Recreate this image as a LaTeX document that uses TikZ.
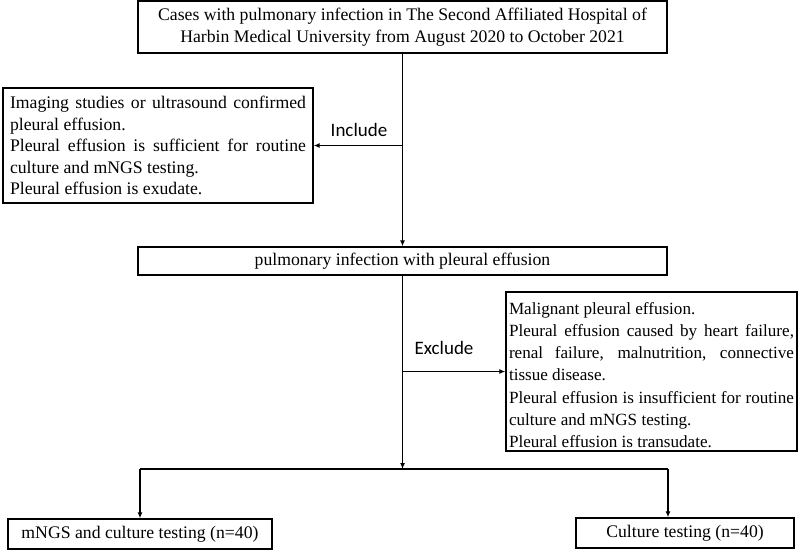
\documentclass[tikz,border=0pt]{standalone}
\usepackage{fontspec}
\setmainfont{Liberation Serif}
\newfontfamily\labfont{Carlito}
\newcommand\nohyphs{\hyphenpenalty=10000\relax}
\usetikzlibrary{arrows.meta}
\begin{document}
\begin{tikzpicture}[x=1pt,y=-1pt,
  box/.style={draw=black, line width=1.4pt, inner ysep=2pt, font=\fontsize{17.7}{21.5}\selectfont\nohyphs},
  conn/.style={line width=1.4pt},
  arr/.style={line width=1.4pt, -{Latex[length=6pt,width=5pt]}},
  lab/.style={font=\labfont\fontsize{19}{21}\selectfont}]
\useasboundingbox (0,0) rectangle (800,555);
\node[box, minimum width=529pt, minimum height=52pt, align=center] (top) at (402.5,27)
  {Cases with pulmonary infection in The Second Affiliated Hospital of\\Harbin Medical University from August 2020 to October 2021};
\node[box, text width=296pt, inner xsep=7pt, minimum height=115pt, align=justify] (incl) at (158,145.5)
  {Imaging studies or ultrasound confirmed\linebreak pleural effusion.\par
   Pleural effusion is sufficient for routine\linebreak culture and mNGS testing.\par
   Pleural effusion is exudate.};
\node[box, minimum width=529pt, minimum height=28pt] (mid) at (402.5,261)
  {pulmonary infection with pleural effusion};
\node[box, font=\fontsize{17.1}{22.2}\selectfont\nohyphs, text width=285pt, inner xsep=3pt, inner ysep=0pt, minimum height=159pt, align=justify] (excl) at (651.5,371.5)
  {\rule{0pt}{19pt}Malignant pleural effusion.\par
   Pleural effusion caused by heart failure,\linebreak renal failure, malnutrition, connective\linebreak tissue disease.\par
   Pleural effusion is insufficient for routine\linebreak culture and mNGS testing.\par
   Pleural effusion is transudate.};
\node[box, minimum width=264pt, minimum height=30pt] (bl) at (140,534)
  {mNGS and culture testing (n=40)};
\node[box, minimum width=218pt, minimum height=30pt] (br) at (685,533)
  {Culture testing (n=40)};
\coordinate (inc) at (top.south |- incl.east);
\coordinate (exc) at (top.south |- excl.west);
\coordinate (split) at (402.5,469);
\coordinate (sl) at (140,469);
\coordinate (sr) at (668,469);
\draw[arr] (top.south) -- (mid.north);
\draw[arr] (inc) -- (incl.east);
\draw[arr] (mid.south) -- (split);
\draw[arr] (exc) -- (excl.west);
\draw[conn] (sl) -- (sr);
\draw[arr] (sl) -- (bl.north);
\draw[arr] (sr) -- (sr |- br.north);
\node[lab] (inclab) at (359,130) {Include};
\node[lab] (exclab) at (444,348) {Exclude};
\end{tikzpicture}
\end{document}
